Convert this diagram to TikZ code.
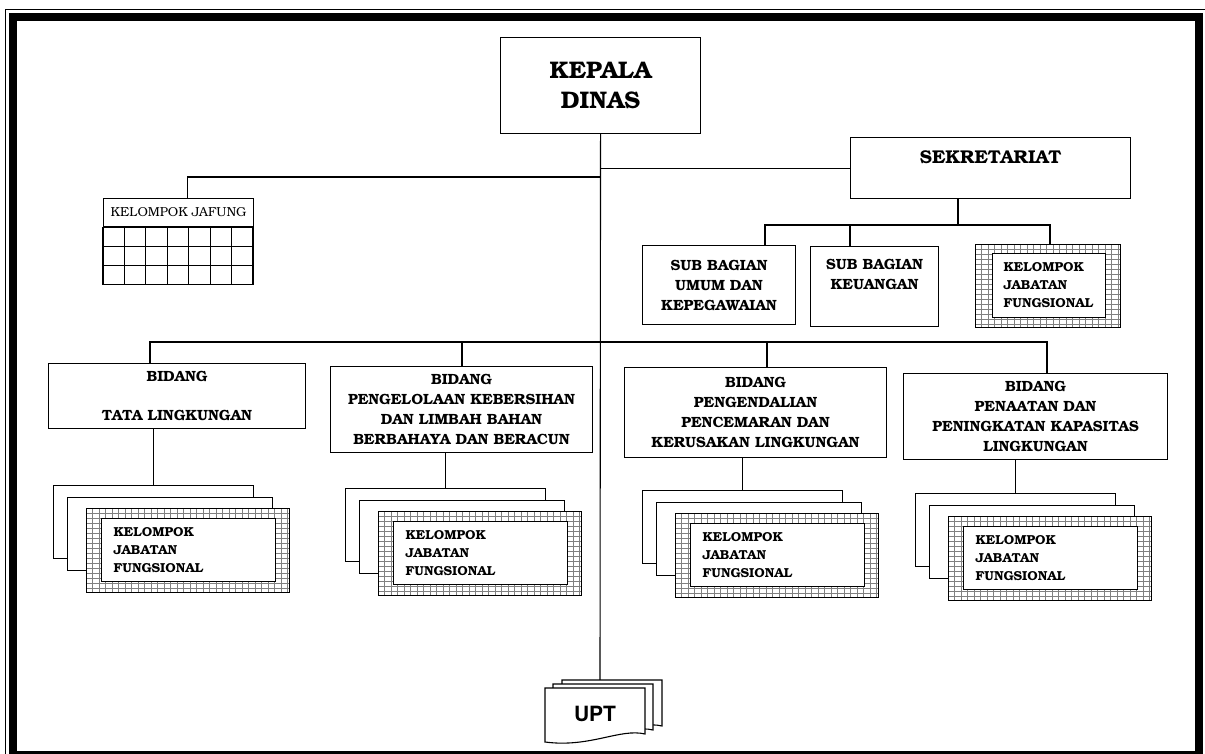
\documentclass[tikz,border=0pt]{standalone}
\usepackage{fontspec}
\setmainfont{TeX Gyre Bonum}
\setsansfont{TeX Gyre Heros}
\pgfdeclarelayer{background}
\pgfsetlayers{background,main}

% hatched frame round a Kelompok box
\newcommand{\gridframe}[4]{%
  \fill[white] (#1,#2) rectangle (#3,#4);
  \begin{scope}
    \clip (#1,#2) rectangle (#3,#4);
    \foreach \gx in {0,6.5,...,246} \draw[gridline] (#1+\gx,#2) -- (#1+\gx,#4);
    \foreach \gy in {0,5,...,110} \draw[gridline] (#1,#2+\gy) -- (#3,#2+\gy);
  \end{scope}
  \draw[line width=1pt] (#1,#2) rectangle (#3,#4);
}
% stack of pages under a bidang
\newcommand{\jfstack}[3]{%
  \node[back=200] (#1a) at (#2,#3) {};
  \node[back=205] (#1b) at (#2+14,#3+12) {};
  \gridframe{#2+33}{#3+23}{#2+236}{#3+107}
  \node[jfinner=150] (#1) at (#2+48,#3+33) {KELOMPOK\\JABATAN\\FUNGSIONAL};
}
\newcommand{\uptpage}[2]{%
  \filldraw[fill=white] (#1,#2) -- (#1+100,#2) -- (#1+100,#2+46)
    .. controls (#1+75,#2+40) and (#1+45,#2+60) .. (#1,#2+54) -- cycle;
}

\begin{document}
\begin{tikzpicture}[x=1pt,y=-1pt,line width=1.1pt,
    conn/.style={line width=1.1pt},
    box/.style={draw, fill=white, anchor=north west, inner sep=0pt, align=center,
      font=\bfseries\fontsize{14.8}{20}\selectfont},
    back/.style={draw, fill=white, anchor=north west, minimum width=#1,
      minimum height=73, inner sep=0pt},
    jfinner/.style={draw, fill=white, anchor=north west, align=left, text width=#1,
      inner xsep=12pt, inner ysep=0pt, minimum height=63,
      font=\bfseries\fontsize{13}{18}\selectfont},
    gridline/.style={black!50, line width=0.4pt}]

    \useasboundingbox (0,0) rectangle (1205,753);
    \clip (0,0) rectangle (1205,753);

    % top
    \node[box, minimum width=200, minimum height=96,
      font=\bfseries\fontsize{24}{30}\selectfont] (kd) at (500,37) {KEPALA\\DINAS};
    \node[box, minimum width=280, minimum height=61,
      font=\bfseries\fontsize{18.5}{20}\selectfont] (sek) at (850,137) {SEKRETARIAT\\[1pt]\mbox{}};

    % kelompok jafung
    \node[draw, fill=white, anchor=north west, minimum width=150, minimum height=28,
      inner sep=0pt, font=\fontsize{13}{16}\selectfont] (jafung) at (103,198) {KELOMPOK JAFUNG};
    \draw (jafung.south west) rectangle ++(150,57);
    \foreach \i in {1,...,6} \draw ([xshift=\i*150/7]jafung.south west) -- ++(0,57);
    \foreach \j in {19,38} \draw ([yshift=-\j]jafung.south west) -- ++(150,0);

    % sekretariat
    \node[box, minimum width=153, minimum height=79] (sub1) at (642,245) {SUB BAGIAN\\UMUM DAN\\KEPEGAWAIAN};
    \node[box, minimum width=128, minimum height=80] (sub2) at (810,246) {SUB BAGIAN\\KEUANGAN\\[4pt]\mbox{}};
    \gridframe{975}{244}{1120}{327}
    \node[jfinner=91, inner xsep=11pt, minimum height=64] (sekfung) at (992,253) {KELOMPOK\\JABATAN\\FUNGSIONAL};

    % bidang
    \node[box, minimum width=257, minimum height=65] (b1) at (48,363) {BIDANG\\[19pt]TATA LINGKUNGAN};
    \node[box, minimum width=262, minimum height=86] (b2) at (330,366) {BIDANG\\PENGELOLAAN KEBERSIHAN\\DAN LIMBAH BAHAN\\BERBAHAYA DAN BERACUN};
    \node[box, minimum width=262, minimum height=90] (b3) at (624,367) {BIDANG\\PENGENDALIAN\\PENCEMARAN DAN\\KERUSAKAN LINGKUNGAN};
    \node[box, minimum width=264, minimum height=86] (b4) at (903,373) {BIDANG\\PENAATAN DAN\\PENINGKATAN KAPASITAS\\LINGKUNGAN};

    \jfstack{s1}{53}{485}
    \jfstack{s2}{345}{488}
    \jfstack{s3}{642}{490}
    \jfstack{s4}{915}{493}

    % upt
    \uptpage{562}{680}
    \uptpage{553}{684}
    \uptpage{545}{688}
    \node[font=\sffamily\bfseries\fontsize{21}{24}\selectfont] (upt) at (595,714) {UPT};
    \coordinate (upttop) at (600,680);

    \coordinate (jbus) at (600,177);
    \coordinate (sbus) at (958,225);
    \coordinate (sbusL) at (765,225);
    \coordinate (sbusM) at (850,225);
    \coordinate (sbusR) at (1050,225);
    \coordinate (bbus1) at (150,342);
    \coordinate (bbus2) at (462,342);
    \coordinate (bbus3) at (767,342);
    \coordinate (bbus4) at (1047,342);

    \begin{pgfonlayer}{background}
      \begin{scope}[conn]
        \draw (kd.south) -- (upttop);
        \draw (kd.south |- sek.west) -- (sek.west);
        \draw (jbus) -| ([xshift=9]jafung.north);
        \draw (sbus |- sek.south) -- (sbus);
        \draw (sub1.north -| sbusL) -- (sbusL) -- (sbusR) -- (sbusR |- sekfung.north);
        \draw (sbusM) -- (sub2.north -| sbusM);
        \draw (b1.north -| bbus1) -- (bbus1) -- (bbus4) -- (b4.north -| bbus4);
        \draw (bbus2) -- (b2.north -| bbus2);
        \draw (bbus3) -- (b3.north -| bbus3);
        \draw (b1.south -| s1a.north) -- (s1a.north);
        \draw (b2.south -| s2a.north) -- (s2a.north);
        \draw (b3.south -| s3a.north) -- (s3a.north);
        \draw (b4.south -| s4a.north) -- (s4a.north);
      \end{scope}
    \end{pgfonlayer}

    % frame
    \draw[line width=0.8pt] (5.5,9.5) rectangle (1212,760);
    \draw[line width=8pt] (12.7,16.7) rectangle (1199,754.5);
\end{tikzpicture}
\end{document}
